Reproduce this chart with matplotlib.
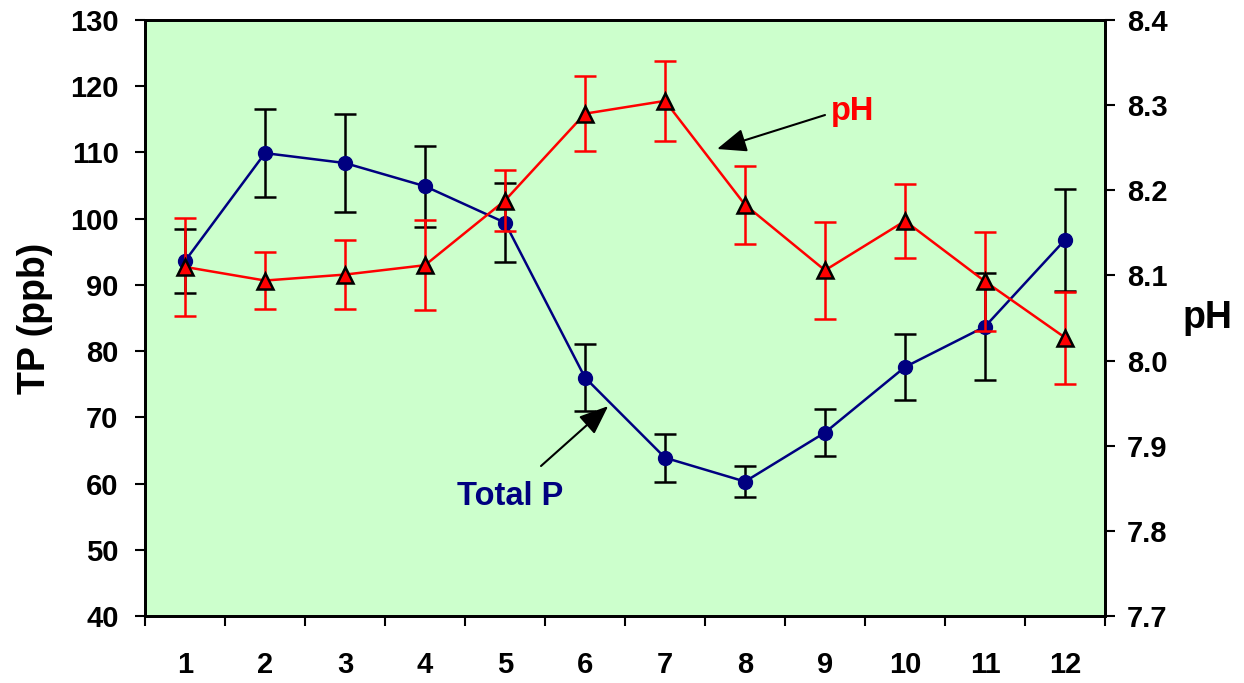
import matplotlib
matplotlib.use("Agg")
import matplotlib.pyplot as plt
from matplotlib.ticker import FixedLocator, NullFormatter

plt.rcParams['font.family'] = ['Liberation Sans', 'DejaVu Sans']
plt.rcParams['font.weight'] = 'bold'

months = [1, 2, 3, 4, 5, 6, 7, 8, 9, 10, 11, 12]
tp = [93.6, 109.9, 108.4, 104.9, 99.4, 76.0, 63.9, 60.3, 67.7, 77.6, 83.7, 96.8]
tp_err = [4.8, 6.7, 7.4, 6.1, 6.0, 5.1, 3.6, 2.3, 3.6, 5.0, 8.1, 7.7]
ph = [8.110, 8.094, 8.101, 8.112, 8.188, 8.290, 8.305, 8.183, 8.106, 8.164, 8.093, 8.027]
ph_err = [0.058, 0.033, 0.041, 0.053, 0.036, 0.044, 0.047, 0.046, 0.057, 0.043, 0.058, 0.054]

tp_ticks = [40, 50, 60, 70, 80, 90, 100, 110, 120, 130]
ph_ticks = [7.7, 7.8, 7.9, 8.0, 8.1, 8.2, 8.3, 8.4]

fig = plt.figure(figsize=(12.44, 6.83), dpi=100)
ax = fig.add_axes([145/1244, 1-616/683, 960/1244, 596/683])
ax.set_facecolor('#CCFFCC')

ax.errorbar(months, tp, yerr=tp_err, color='#000080', lw=1.8, marker='o',
            markersize=10, markerfacecolor='#000080', markeredgecolor='#000080',
            ecolor='black', elinewidth=1.8, capsize=8, capthick=1.8, zorder=3)
ax.set_xlim(0.5, 12.5)
ax.set_ylim(40, 130)
ax.set_yticks(tp_ticks)
ax.set_xticks(months)
ax.xaxis.set_minor_locator(FixedLocator([m + 0.5 for m in [0] + months]))
ax.xaxis.set_minor_formatter(NullFormatter())
ax.tick_params(axis='x', which='major', length=0, pad=25, labelsize=21)
ax.tick_params(axis='x', which='minor', length=7, width=1.5, direction='out')
ax.tick_params(axis='y', which='major', length=7, width=1.5, direction='out', labelsize=21, pad=12)
ax.set_ylabel('TP (ppb)', fontsize=27, fontweight='bold')
ax.yaxis.label.set_va('center')
ax.yaxis.set_label_coords((35 - 145) / 960, (616 - 318) / 596)
for s in ax.spines.values():
    s.set_linewidth(2)
    s.set_color('black')

ax2 = ax.twinx()
ax2.errorbar(months, ph, yerr=ph_err, color='#FF0000', lw=1.8, marker='^',
             markersize=11, markerfacecolor='#FF0000', markeredgecolor='black',
             markeredgewidth=1.8, ecolor='#FF0000', elinewidth=1.8, capsize=8,
             capthick=1.8, zorder=3)
ax2.set_ylim(7.7, 8.4)
ax2.set_yticks(ph_ticks)
ax2.set_yticklabels([f'{t:.1f}' for t in ph_ticks])
ax2.tick_params(axis='y', which='major', length=7, width=1.5, direction='out', labelsize=21, pad=9)
ax2.set_ylabel('pH', fontsize=27, fontweight='bold', rotation=0)
ax2.yaxis.label.set_va('center')
ax2.yaxis.label.set_ha('center')
ax2.yaxis.set_label_coords((1207 - 145) / 960, (616 - 318) / 596)
for s in ax2.spines.values():
    s.set_linewidth(2)
    s.set_color('black')

arrow_style = '-|>,head_length=0.5,head_width=0.2'
ax2.annotate('', xy=(7.65, 8.2485), xytext=(9.0, 8.2884),
             arrowprops=dict(arrowstyle=arrow_style, color='black', lw=1.5,
                             mutation_scale=36, shrinkA=0, shrinkB=0))
ax2.text(9.35, 8.293, 'pH', color='#FF0000', fontsize=23.5, fontweight='bold',
         ha='center', va='center')
ax.annotate('', xy=(6.29, 71.7), xytext=(5.45, 62.65),
            arrowprops=dict(arrowstyle=arrow_style, color='black', lw=1.5,
                            mutation_scale=36, shrinkA=0, shrinkB=0))
ax.text(5.06, 57.97, 'Total P', color='#000080', fontsize=23.5, fontweight='bold',
        ha='center', va='center', zorder=5)

fig.savefig('out.png', dpi=100)
